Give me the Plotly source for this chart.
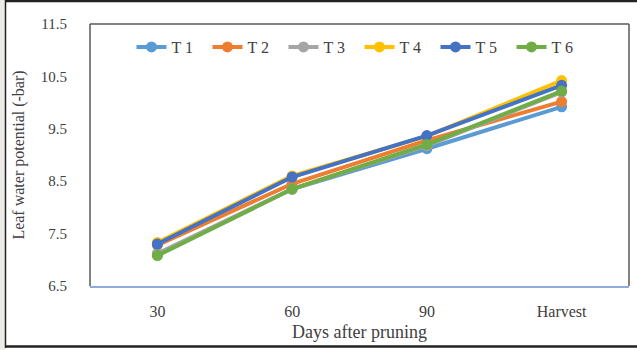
import plotly.graph_objects as go

# Sampling stages and leaf water potential (-bar) per treatment
stages = ["30", "60", "90", "Harvest"]
t1 = [7.10, 8.35, 9.12, 9.92]
t2 = [7.28, 8.45, 9.28, 10.02]
t3 = [7.12, 8.35, 9.18, 10.20]
t4 = [7.33, 8.60, 9.36, 10.42]
t5 = [7.30, 8.58, 9.37, 10.33]
t6 = [7.08, 8.35, 9.20, 10.22]

series_names = ["T 1", "T 2", "T 3", "T 4", "T 5", "T 6"]
series_values = [t1, t2, t3, t4, t5, t6]
series_colors = ["#5B9BD5", "#ED7D31", "#A5A5A5", "#FFC000", "#4472C4", "#70AD47"]

W, H = 637, 350
L, R, T, B = 90, 8, 24, 64

fig = go.Figure()
for name, vals, col in zip(series_names, series_values, series_colors):
    fig.add_trace(go.Scatter(
        x=stages, y=vals, name=name, mode="lines+markers",
        line=dict(color=col, width=4),
        marker=dict(color=col, size=11),
    ))

font = "Liberation Serif, Times New Roman, serif"

# helpers converting pixel positions to paper coordinates
pw, ph = W - L - R, H - T - B
def px(x):
    return (x - L) / pw
def py(y):
    return (H - B - y) / ph

shapes = [
    # light strip on the left edge
    dict(type="rect", xref="paper", yref="paper", x0=px(0), x1=px(5), y0=py(350), y1=py(0),
         fillcolor="#ECEBE7", line=dict(width=0), layer="below"),
    # outer frame
    dict(type="line", xref="paper", yref="paper", x0=px(5.5), x1=px(5.5), y0=py(348), y1=py(0),
         line=dict(color="#222222", width=1.5)),
    dict(type="line", xref="paper", yref="paper", x0=px(5), x1=px(637), y0=py(1), y1=py(1),
         line=dict(color="#222222", width=2.5)),
    dict(type="line", xref="paper", yref="paper", x0=px(5), x1=px(637), y0=py(346.5), y1=py(346.5),
         line=dict(color="#222222", width=2.5)),
    # plot area frame (left, top, right)
    dict(type="line", xref="paper", yref="paper", x0=0, x1=0, y0=0, y1=1,
         line=dict(color="#595959", width=1.5)),
    dict(type="line", xref="paper", yref="paper", x0=0, x1=1, y0=1, y1=1,
         line=dict(color="#595959", width=1.5)),
    dict(type="line", xref="paper", yref="paper", x0=1, x1=1, y0=0, y1=1,
         line=dict(color="#595959", width=1.5)),
]

fig.update_layout(
    width=W, height=H,
    margin=dict(l=L, r=R, t=T, b=B),
    paper_bgcolor="white", plot_bgcolor="white",
    font=dict(family=font, size=15, color="#404040"),
    showlegend=True,
    legend=dict(orientation="h", x=0.5, xanchor="center", y=py(47), yanchor="middle",
                font=dict(size=16, color="#404040"), bgcolor="rgba(0,0,0,0)",
                itemwidth=30, tracegroupgap=0, entrywidth=31, entrywidthmode="pixels"),
    shapes=shapes,
    xaxis=dict(
        type="category", range=[-0.5, 3.5], showgrid=False, zeroline=False,
        showline=True, linecolor="#8FAADC", linewidth=2, ticks="",
        ticklabelstandoff=10,
        tickfont=dict(size=16, color="#404040"),
        title=dict(text="Days after pruning", font=dict(size=18, color="#404040"), standoff=6),
    ),
    yaxis=dict(
        range=[6.5, 11.5], tick0=6.5, dtick=1, showgrid=False, zeroline=False,
        showline=False, ticks="", tickformat=".1f", ticklabelstandoff=22,
        tickfont=dict(size=15, color="#404040"),
        title=dict(text="Leaf water potential (-bar)", font=dict(size=16, color="#404040"), standoff=12),
    ),
)

fig.write_html("out.html")
